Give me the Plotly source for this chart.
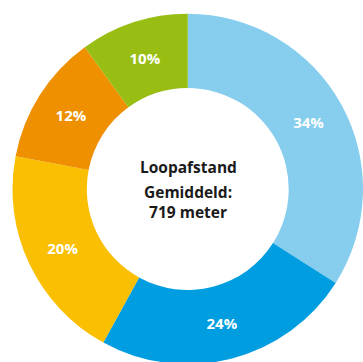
import plotly.graph_objects as go

# Walking-distance shares
labels = ["34%", "24%", "20%", "12%", "10%"]
values = [34, 24, 20, 12, 10]
colors = ["#86CDEE", "#009EE0", "#F9BF00", "#EE9000", "#98BE14"]

# Centre caption blocks and their vertical pixel positions
center_texts = ["Loopafstand", "Gemiddeld:<br>719 meter"]
center_y_px = [167, 202]

W, H = 363, 372
cx, cy, r = 188, 189, 175.5  # pixel centre (from top) and outer radius

fig = go.Figure(
    go.Pie(
        labels=labels,
        values=values,
        sort=False,
        direction="clockwise",
        rotation=0,
        hole=0.576,
        marker=dict(colors=colors, line=dict(width=0)),
        texttemplate="%{value}%",
        textposition="inside",
        insidetextorientation="horizontal",
        textfont=dict(family="Open Sans", size=15, color="white", weight="bold"),
        hoverinfo="skip",
        showlegend=False,
        domain=dict(
            x=[(cx - r) / W, min(1, (cx + r) / W)],
            y=[(H - cy - r) / H, (H - cy + r) / H],
        ),
    )
)

for txt, ypx in zip(center_texts, center_y_px):
    fig.add_annotation(
        text=txt, x=cx / W, y=(H - ypx) / H, xref="paper", yref="paper",
        showarrow=False, yanchor="middle",
        font=dict(family="Open Sans", size=15.5, color="#1a1a1a", weight="bold"),
    )

fig.update_layout(
    width=W, height=H,
    margin=dict(l=0, r=0, t=0, b=0),
    paper_bgcolor="white",
    plot_bgcolor="white",
)

fig.write_html(
    "out.html",
    post_script="document.documentElement.style.overflow='hidden';document.body.style.overflow='hidden';document.body.style.margin='0';",
)
